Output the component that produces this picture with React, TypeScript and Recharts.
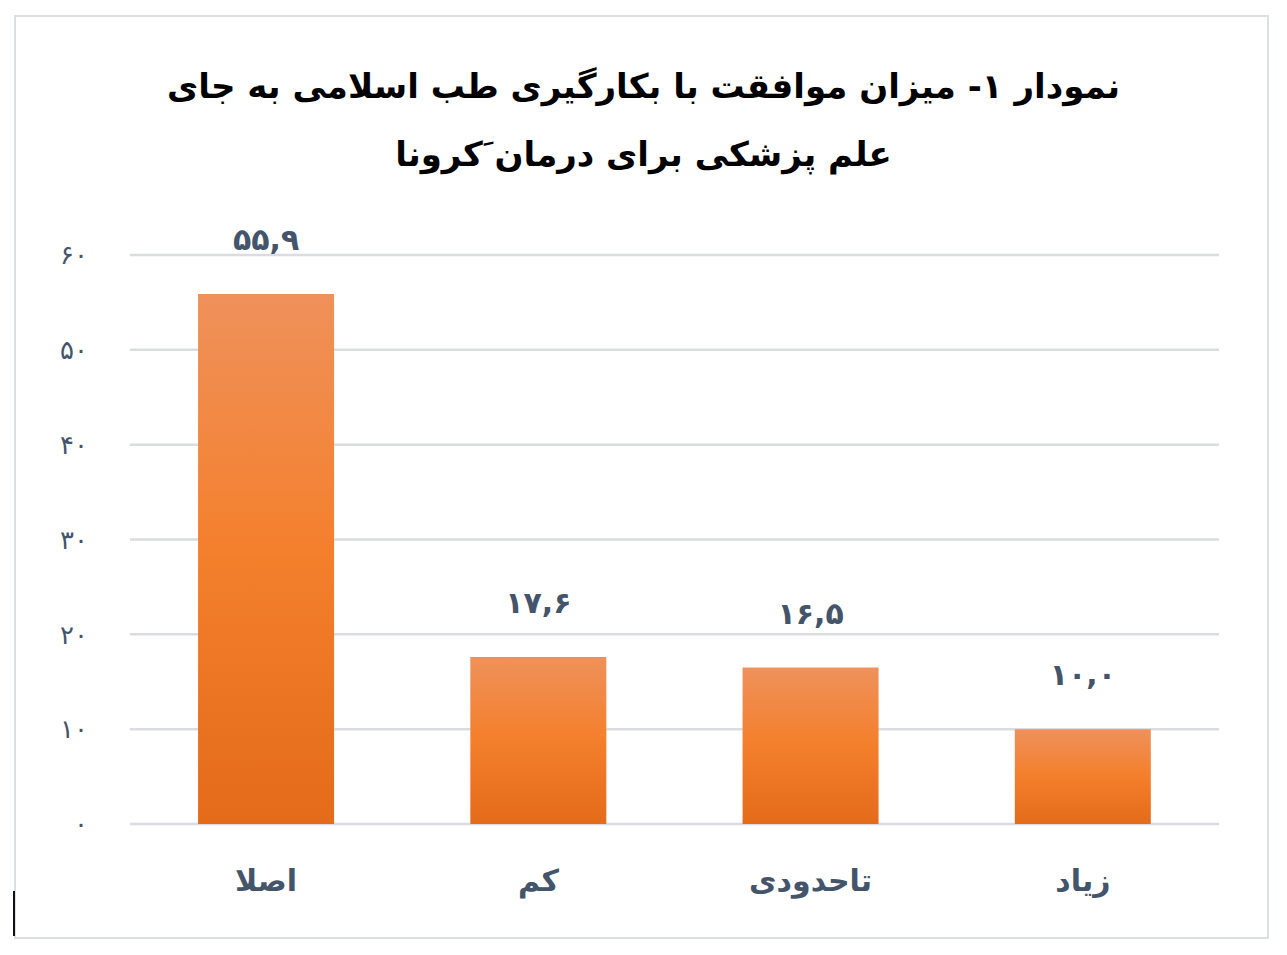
import React from 'react';
import { BarChart, Bar, XAxis, YAxis, CartesianGrid, LabelList } from 'recharts';

const categories = ['اصلا', 'کم', 'تاحدودی', 'زیاد'];
const values = [55.9, 17.6, 16.5, 10.0];
const yTicks = [0, 10, 20, 30, 40, 50, 60];
const titleLines = [
  'نمودار ۱- میزان موافقت با بکارگیری طب اسلامی به جای',
  'علم پزشکی برای درمان َکرونا',
];

const data = categories.map((c, i) => ({ name: c, value: values[i] }));

const faDigits = '۰۱۲۳۴۵۶۷۸۹';
const toFa = (s: string) => s.replace(/[0-9]/g, (d) => faDigits[Number(d)]);

const TEXT = '#44546a';
const FONT = '"DejaVu Sans", sans-serif';

const ValueLabel = (props: any) => {
  const { x, y, width, value } = props;
  return (
    <text
      x={x + width / 2}
      y={y - 44}
      textAnchor="middle"
      fill={TEXT}
      fontSize={30}
      fontWeight="bold"
      fontFamily={FONT}
    >
      {toFa(Number(value).toFixed(1).replace('.', ','))}
    </text>
  );
};

export default function App() {
  return (
    <div style={{ position: 'absolute', left: 0, top: 0, width: 1287, height: 955, background: '#fff' }}>
      {/* chart frame */}
      <div
        style={{
          position: 'absolute',
          left: 14,
          top: 15,
          width: 1251,
          height: 920,
          border: '2px solid #dcdfe3',
        }}
      />
      {/* cursor mark */}
      <div style={{ position: 'absolute', left: 13, top: 891, width: 2, height: 45, background: '#111' }} />

      <div
        style={{
          position: 'absolute',
          left: 0,
          top: 52,
          width: 1287,
          textAlign: 'center',
          direction: 'rtl',
          fontFamily: FONT,
          fontWeight: 'bold',
          fontSize: 34,
          lineHeight: '68px',
          color: '#000',
        }}
      >
        {titleLines.map((t, i) => (
          <div key={i}>{t}</div>
        ))}
      </div>

      <div style={{ position: 'absolute', left: 0, top: 0 }}>
        <BarChart
          width={1287}
          height={955}
          data={data}
          margin={{ top: 255, right: 68, left: 0, bottom: 101 }}
          barCategoryGap="25%"
        >
          <defs>
            <linearGradient id="barFill" x1="0" y1="0" x2="0" y2="1">
              <stop offset="0%" stopColor="#ef915b" />
              <stop offset="50%" stopColor="#f47f2b" />
              <stop offset="100%" stopColor="#e36b1a" />
            </linearGradient>
          </defs>
          <CartesianGrid vertical={false} stroke="#d9dce1" strokeWidth={2.5} />
          <XAxis
            dataKey="name"
            axisLine={false}
            tickLine={false}
            interval={0}
            tickMargin={40}
            tick={{ fill: TEXT, fontSize: 30, fontWeight: 'bold', fontFamily: FONT }}
          />
          <YAxis
            width={130}
            domain={[0, 60]}
            ticks={yTicks}
            axisLine={false}
            tickLine={false}
            tickMargin={36}
            tickFormatter={(v: number) => toFa(String(v))}
            tick={{ fill: TEXT, fontSize: 26, fontFamily: FONT }}
          />
          <Bar dataKey="value" fill="url(#barFill)" isAnimationActive={false}>
            <LabelList dataKey="value" content={<ValueLabel />} />
          </Bar>
        </BarChart>
      </div>
    </div>
  );
}
